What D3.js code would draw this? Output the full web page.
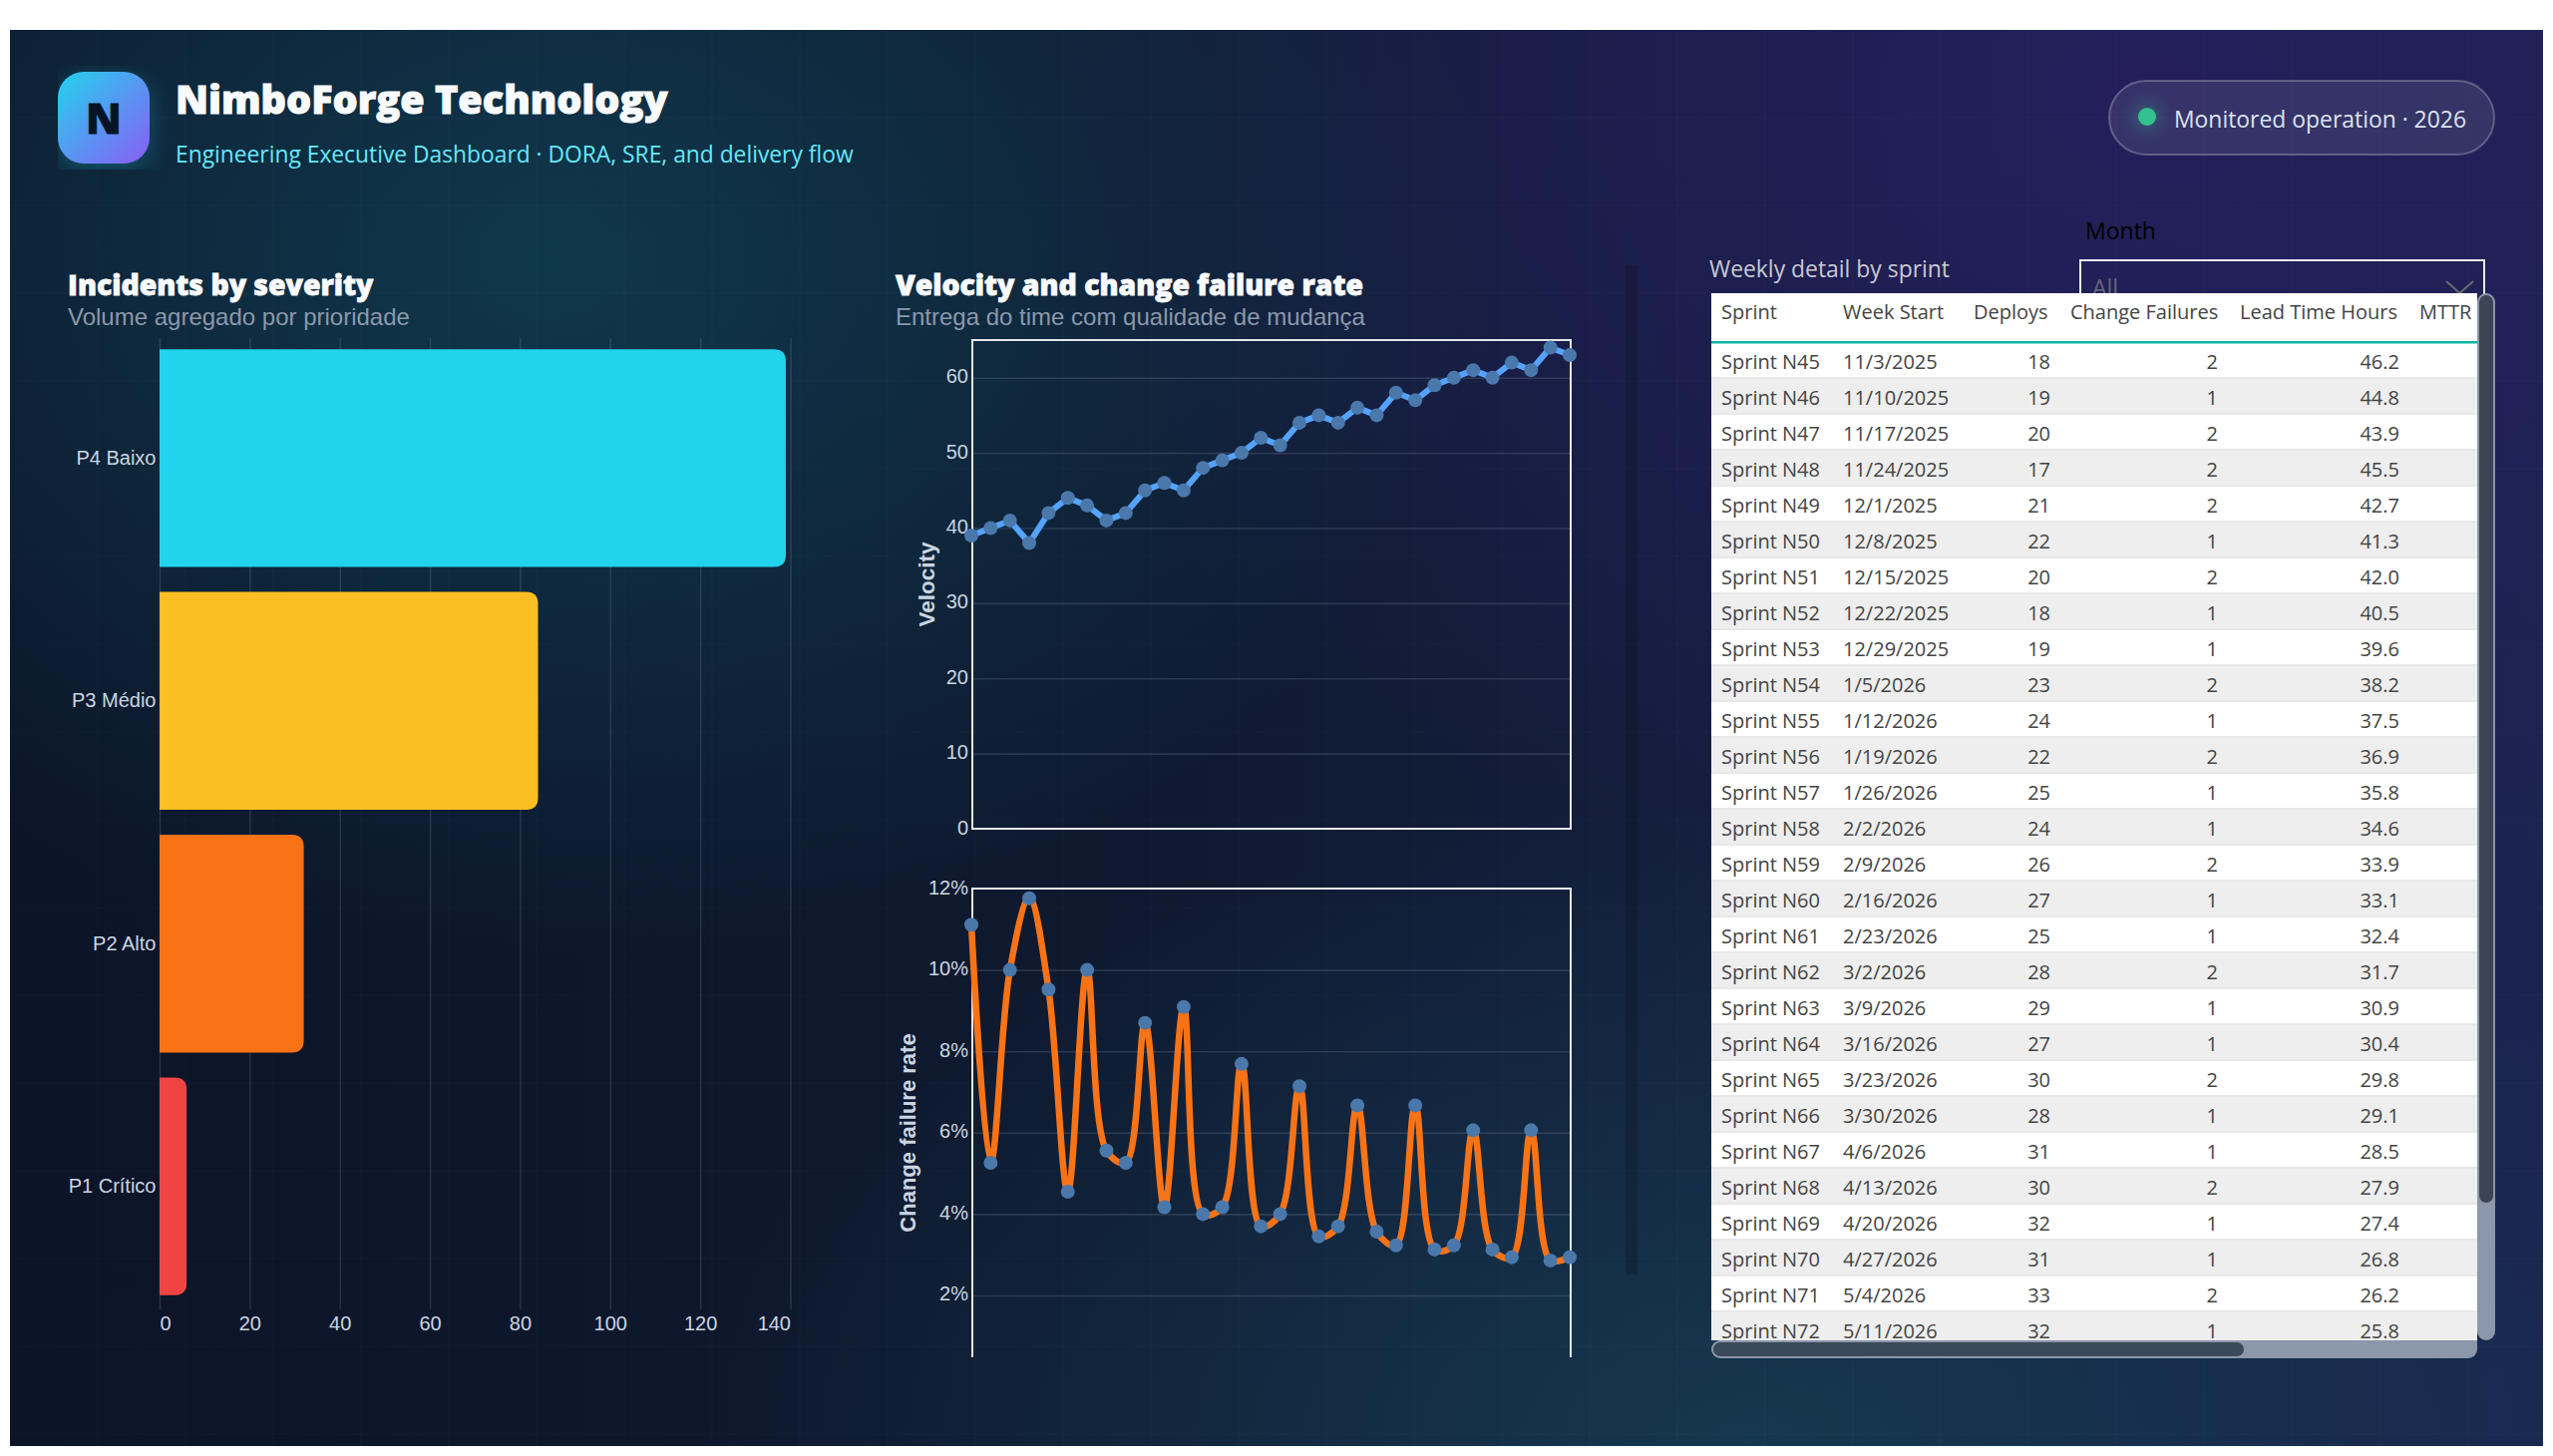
<!DOCTYPE html>
<html>
<head>
<meta charset="utf-8">
<title>NimboForge Technology</title>
<script src="https://cdnjs.cloudflare.com/ajax/libs/d3/7.8.5/d3.min.js"></script>
<style>
  html, body { margin: 0; background: #fff; }
  #stage { position: relative; width: 2560px; height: 1460px; overflow: hidden; }
  #canvas {
    position: absolute; left: 10px; top: 30px; width: 2540px; height: 1420px;
    background:
      radial-gradient(ellipse 950px 700px at 540px 230px, rgba(16,62,82,.85), rgba(16,62,82,0)),
      radial-gradient(ellipse 1150px 850px at 2150px 70px, rgba(36,31,92,1), rgba(36,31,92,0)),
      radial-gradient(ellipse 1050px 640px at 1750px 1420px, rgba(22,60,82,.85), rgba(22,60,82,0)),
      linear-gradient(90deg, #0c1428 0%, #0f1a30 45%, #1b2450 100%);
  }
  svg { position: absolute; left: 0; top: 0; }
</style>
</head>
<body>
<div id="stage"><div id="canvas"></div><svg id="chart" width="2560" height="1460"></svg></div>
<script>
// Incident volume per severity
const severityLabels = ["P4 Baixo", "P3 Médio", "P2 Alto", "P1 Crítico"];
const severityCounts = [139, 84, 32, 6];
const severityColors = ["#22d3ee", "#fbbf24", "#f97316", "#ef4444"];
const severityTicks = [0, 20, 40, 60, 80, 100, 120, 140];

// Team velocity per sprint, N45 to N76
const velocity = [39, 40, 41, 38, 42, 44, 43, 41, 42, 45, 46, 45, 48, 49, 50, 52,
                  51, 54, 55, 54, 56, 55, 58, 57, 59, 60, 61, 60, 62, 61, 64, 63];
const velocityTicks = [0, 10, 20, 30, 40, 50, 60];

// Change failure rate per sprint, percent
const failureRate = [11.11, 5.26, 10.0, 11.76, 9.52, 4.55, 10.0, 5.56, 5.26, 8.7, 4.17, 9.09,
                     4.0, 4.17, 7.69, 3.7, 4.0, 7.14, 3.45, 3.7, 6.67, 3.57, 3.23, 6.67,
                     3.13, 3.23, 6.06, 3.13, 2.94, 6.06, 2.86, 2.94];
const failureTicks = [2, 4, 6, 8, 10, 12];

// Weekly detail table
const tableSprints = ["Sprint N45","Sprint N46","Sprint N47","Sprint N48","Sprint N49","Sprint N50","Sprint N51",
  "Sprint N52","Sprint N53","Sprint N54","Sprint N55","Sprint N56","Sprint N57","Sprint N58","Sprint N59","Sprint N60",
  "Sprint N61","Sprint N62","Sprint N63","Sprint N64","Sprint N65","Sprint N66","Sprint N67","Sprint N68","Sprint N69",
  "Sprint N70","Sprint N71","Sprint N72"];
const tableWeeks = ["11/3/2025","11/10/2025","11/17/2025","11/24/2025","12/1/2025","12/8/2025","12/15/2025",
  "12/22/2025","12/29/2025","1/5/2026","1/12/2026","1/19/2026","1/26/2026","2/2/2026","2/9/2026","2/16/2026",
  "2/23/2026","3/2/2026","3/9/2026","3/16/2026","3/23/2026","3/30/2026","4/6/2026","4/13/2026","4/20/2026",
  "4/27/2026","5/4/2026","5/11/2026"];
const tableDeploys = [18,19,20,17,21,22,20,18,19,23,24,22,25,24,26,27,25,28,29,27,30,28,31,30,32,31,33,32];
const tableFailures = [2,1,2,2,2,1,2,1,1,2,1,2,1,1,2,1,1,2,1,1,2,1,1,2,1,1,2,1];
const tableLeadTime = ["46.2","44.8","43.9","45.5","42.7","41.3","42.0","40.5","39.6","38.2","37.5","36.9","35.8",
  "34.6","33.9","33.1","32.4","31.7","30.9","30.4","29.8","29.1","28.5","27.9","27.4","26.8","26.2","25.8"];
const tableHeaders = ["Sprint", "Week Start", "Deploys", "Change Failures", "Lead Time Hours", "MTTR"];

const SEGOE = "'Open Sans', 'Noto Sans', sans-serif";
const ARIAL = "'Liberation Sans', Arial, sans-serif";
const TICK = "#cbd5e1";
const GRID = "rgba(148,163,184,0.2)";

const svg = d3.select("#chart");
const defs = svg.append("defs");

// Faint square lattice over the page background
const lattice = svg.append("g").attr("stroke", "rgba(255,255,255,0.012)").attr("stroke-width", 2);
lattice.selectAll("line.v").data(d3.range(98, 2550, 88)).join("line")
  .attr("x1", d => d).attr("x2", d => d).attr("y1", 30).attr("y2", 1450);
lattice.selectAll("line.h").data(d3.range(118, 1450, 88)).join("line")
  .attr("x1", 10).attr("x2", 2550).attr("y1", d => d).attr("y2", d => d);

// Heavy display text: the widest installed weight thickened with a thin outline
function heavy(sel, fill, outline) {
  return sel.attr("font-family", SEGOE).attr("font-weight", 800)
    .attr("fill", fill).attr("stroke", fill).attr("stroke-width", outline).attr("paint-order", "stroke");
}

// ---------- Header ----------
const logoGrad = defs.append("linearGradient").attr("id", "logoGrad")
  .attr("x1", 0).attr("y1", 0).attr("x2", 1).attr("y2", 1);
logoGrad.append("stop").attr("offset", "0%").attr("stop-color", "#22d3ee");
logoGrad.append("stop").attr("offset", "100%").attr("stop-color", "#8b5cf6");
defs.append("filter").attr("id", "soft").attr("x", "-60%").attr("y", "-60%").attr("width", "220%").attr("height", "220%")
  .append("feGaussianBlur").attr("stdDeviation", 12);
defs.append("filter").attr("id", "dotGlow").attr("x", "-150%").attr("y", "-150%").attr("width", "400%").attr("height", "400%")
  .append("feGaussianBlur").attr("stdDeviation", 9);
defs.append("clipPath").attr("id", "logoClip").append("rect")
  .attr("x", 58).attr("y", 66).attr("width", 120).attr("height", 104);
svg.append("g").attr("clip-path", "url(#logoClip)").append("rect")
  .attr("x", 58).attr("y", 78).attr("width", 92).attr("height", 92).attr("rx", 24)
  .attr("fill", "#22d3ee").attr("opacity", 0.28).attr("filter", "url(#soft)");
svg.append("rect").attr("x", 58).attr("y", 72).attr("width", 92).attr("height", 92).attr("rx", 26)
  .attr("fill", "url(#logoGrad)");
heavy(svg.append("text"), "#071426", 0.8).attr("x", 104).attr("y", 134).attr("text-anchor", "middle")
  .attr("font-size", 43).text("N");
heavy(svg.append("text"), "#f8fafc", 1).attr("x", 176).attr("y", 114)
  .attr("font-size", 39.6).text("NimboForge Technology");
svg.append("text").attr("x", 176).attr("y", 163)
  .attr("font-family", SEGOE).attr("font-size", 22.8).attr("fill", "#67e8f9")
  .text("Engineering Executive Dashboard · DORA, SRE, and delivery flow");

svg.append("rect").attr("x", 2115).attr("y", 81).attr("width", 386).attr("height", 74).attr("rx", 37)
  .attr("fill", "rgba(255,255,255,0.09)").attr("stroke", "rgba(255,255,255,0.25)").attr("stroke-width", 2);
svg.append("circle").attr("cx", 2153).attr("cy", 117).attr("r", 12)
  .attr("fill", "#34d399").attr("opacity", 0.35).attr("filter", "url(#dotGlow)");
svg.append("circle").attr("cx", 2153).attr("cy", 117).attr("r", 9).attr("fill", "#34c08f");
svg.append("text").attr("x", 2180).attr("y", 128)
  .attr("font-family", SEGOE).attr("font-size", 22.9).attr("fill", "#dbe3ee")
  .text("Monitored operation · 2026");

// ---------- Section titles ----------
function sectionTitle(x, title, subtitle) {
  heavy(svg.append("text"), "#f8fafc", 0.8).attr("x", x).attr("y", 296)
    .attr("font-size", 28.4).text(title);
  svg.append("text").attr("x", x).attr("y", 326)
    .attr("font-family", ARIAL).attr("font-size", 24).attr("fill", "#8b98ab").text(subtitle);
}
sectionTitle(68, "Incidents by severity", "Volume agregado por prioridade");
sectionTitle(898, "Velocity and change failure rate", "Entrega do time com qualidade de mudança");

function styleTicks(g) {
  g.selectAll("text").attr("font-family", ARIAL).attr("font-size", 20).attr("fill", TICK);
}

// ---------- Incidents by severity ----------
const sevX = d3.scaleLinear().domain([0, 140]).range([160, 792.5]);
const sevY = d3.scaleBand().domain(severityLabels).range([337.5, 1311.5]).paddingInner(0.103).paddingOuter(0.052);

const sevGrid = svg.append("g").attr("transform", "translate(0,1313)")
  .call(d3.axisBottom(sevX).tickValues(severityTicks).tickSize(-974).tickPadding(7));
sevGrid.select(".domain").remove();
sevGrid.selectAll("line").attr("stroke", GRID).attr("stroke-width", 1.5);
styleTicks(sevGrid);
sevGrid.selectAll("text")
  .attr("text-anchor", d => d === 0 ? "start" : d === 140 ? "end" : "middle");

// Bars sit on the axis with only the far end rounded
function barPath(d, i) {
  const x0 = sevX(0), x1 = sevX(severityCounts[i]), y0 = sevY(d), h = sevY.bandwidth(), r = 12;
  return `M${x0},${y0}H${x1 - r}Q${x1},${y0} ${x1},${y0 + r}V${y0 + h - r}Q${x1},${y0 + h} ${x1 - r},${y0 + h}H${x0}Z`;
}
svg.append("g").selectAll("path").data(severityLabels).join("path")
  .attr("d", barPath).attr("fill", (d, i) => severityColors[i]);

const sevAxis = svg.append("g").attr("transform", "translate(160.5,0)")
  .call(d3.axisLeft(sevY).tickSize(0).tickPadding(4));
sevAxis.select(".domain").remove();
styleTicks(sevAxis);

// ---------- Shared frame for the two trend charts ----------
const trendX = d3.scaleLinear().domain([0, 31]).range([974, 1574]);
const frameLeft = 975, frameRight = 1575;

function trendAxis(y, ticks, format, title, titleX, titleY, titleSize) {
  const axis = svg.append("g").attr("transform", `translate(${frameLeft},0)`)
    .call(d3.axisLeft(y).tickValues(ticks).tickSize(-(frameRight - frameLeft)).tickPadding(4).tickFormat(format));
  axis.select(".domain").remove();
  axis.selectAll("line").attr("stroke", GRID).attr("stroke-width", 1.6);
  styleTicks(axis);
  axis.selectAll("text").attr("dy", "0.25em");
  svg.append("text")
    .attr("transform", `translate(${titleX},${titleY}) rotate(-90)`)
    .attr("text-anchor", "middle").attr("dominant-baseline", "central")
    .attr("font-family", ARIAL).attr("font-weight", 700).attr("font-size", titleSize).attr("fill", TICK)
    .text(title);
}

function markers(values, y) {
  svg.append("g").selectAll("circle").data(values).join("circle")
    .attr("cx", (d, i) => trendX(i)).attr("cy", d => y(d)).attr("r", 7).attr("fill", "#4a78ab");
}

// Velocity: straight segments, closed frame
const velY = d3.scaleLinear().domain([0, 65]).range([831, 341]);
trendAxis(velY, velocityTicks, d => d, "Velocity", 929, 586, 22.5);
svg.append("rect").attr("x", frameLeft).attr("y", velY(65))
  .attr("width", frameRight - frameLeft).attr("height", velY(0) - velY(65))
  .attr("fill", "none").attr("stroke", "#e5e7eb").attr("stroke-width", 2);
svg.append("path").datum(velocity)
  .attr("d", d3.line().x((d, i) => trendX(i)).y(d => velY(d)))
  .attr("fill", "none").attr("stroke", "#55a3ff").attr("stroke-width", 6).attr("stroke-linejoin", "round");
markers(velocity, velY);

// Change failure rate: smoothed line, frame open at the bottom
const cfrY = d3.scaleLinear().domain([0.48, 12]).range([1361, 891]);
trendAxis(cfrY, failureTicks, d => d + "%", "Change failure rate", 910, 1136, 22);
svg.append("path")
  .attr("d", d3.line()([[frameLeft, cfrY(0.48)], [frameLeft, cfrY(12)], [frameRight, cfrY(12)], [frameRight, cfrY(0.48)]]))
  .attr("fill", "none").attr("stroke", "#e5e7eb").attr("stroke-width", 2);
svg.append("path").datum(failureRate)
  .attr("d", d3.line().x((d, i) => trendX(i)).y(d => cfrY(d)).curve(d3.curveCatmullRom.alpha(0.5)))
  .attr("fill", "none").attr("stroke", "#f97316").attr("stroke-width", 6.5).attr("stroke-linejoin", "round");
markers(failureRate, cfrY);

// Empty scroll gutter beside the trend charts
svg.append("rect").attr("x", 1630).attr("y", 266).attr("width", 12).attr("height", 1012)
  .attr("fill", "rgba(12,18,28,0.28)");

// ---------- Month slicer, partly covered by the table ----------
svg.append("text").attr("x", 2091).attr("y", 240)
  .attr("font-family", SEGOE).attr("font-size", 23).attr("fill", "#000").text("Month");
svg.append("rect").attr("x", 2086).attr("y", 261).attr("width", 405).attr("height", 52)
  .attr("fill", "none").attr("stroke", "#e8e8f0").attr("stroke-width", 2);
svg.append("text").attr("x", 2098).attr("y", 297)
  .attr("font-family", SEGOE).attr("font-size", 23).attr("fill", "#66667a").text("All");
svg.append("path").attr("d", d3.line()([[2453, 282], [2466.5, 294], [2480, 282]]))
  .attr("fill", "none").attr("stroke", "#6b6b72").attr("stroke-width", 2);

// ---------- Weekly detail table ----------
svg.append("text").attr("x", 1714).attr("y", 278)
  .attr("font-family", SEGOE).attr("font-size", 22.9).attr("fill", "#c9c9d2").text("Weekly detail by sprint");

const tableLeft = 1716, tableRight = 2484, tableTop = 294, tableBottom = 1344;
defs.append("clipPath").attr("id", "tableClip").append("rect")
  .attr("x", tableLeft).attr("y", tableTop).attr("width", tableRight - tableLeft).attr("height", tableBottom - tableTop);
const table = svg.append("g").attr("clip-path", "url(#tableClip)");
table.append("rect").attr("x", tableLeft).attr("y", tableTop)
  .attr("width", tableRight - tableLeft).attr("height", tableBottom - tableTop).attr("fill", "#fff");

const rowY = d3.scaleBand().domain(d3.range(tableSprints.length)).range([344, 344 + 36 * tableSprints.length]);
const rows = table.selectAll("g.row").data(tableSprints).join("g").attr("class", "row")
  .attr("transform", (d, i) => `translate(0,${rowY(i)})`);
rows.append("rect").attr("x", tableLeft).attr("width", tableRight - tableLeft).attr("height", rowY.bandwidth())
  .attr("fill", (d, i) => i % 2 ? "#eeeeee" : "#ffffff");
rows.append("rect").attr("x", tableLeft).attr("y", rowY.bandwidth() - 2).attr("width", tableRight - tableLeft).attr("height", 2)
  .attr("fill", "#e8e8e8");

const columns = [
  { x: 1726, anchor: "start", values: tableSprints },
  { x: 1848, anchor: "start", values: tableWeeks },
  { x: 2056, anchor: "end", values: tableDeploys },
  { x: 2224, anchor: "end", values: tableFailures },
  { x: 2406, anchor: "end", values: tableLeadTime }
];
columns.forEach(col => {
  rows.append("text")
    .attr("x", col.x).attr("y", 26).attr("text-anchor", col.anchor)
    .attr("font-family", SEGOE).attr("font-size", 20).attr("fill", "#444")
    .text((d, i) => col.values[i]);
});
const headerX = [1726, 1848, 1979, 2076, 2246, 2426];
table.selectAll("text.head").data(tableHeaders).join("text").attr("class", "head")
  .attr("x", (d, i) => headerX[i]).attr("y", 320)
  .attr("font-family", SEGOE).attr("font-size", 20).attr("fill", "#444").text(d => d);
table.append("rect").attr("x", tableLeft).attr("y", 342).attr("width", tableRight - tableLeft).attr("height", 2.5)
  .attr("fill", "#0fb5a4");

// Scrollbars
svg.append("rect").attr("x", 2484).attr("y", 294).attr("width", 18).attr("height", 1050).attr("rx", 9).attr("fill", "#8b97aa");
svg.append("rect").attr("x", 2486).attr("y", 296).attr("width", 14).attr("height", 910).attr("rx", 7).attr("fill", "#3f4356");
svg.append("path")
  .attr("d", "M1725,1344H2484V1353A9,9 0 0 1 2475,1362H1725A9,9 0 0 1 1716,1353A9,9 0 0 1 1725,1344Z")
  .attr("fill", "#8b97aa");
svg.append("rect").attr("x", 1718).attr("y", 1346).attr("width", 532).attr("height", 14).attr("rx", 7).attr("fill", "#3b4a5a");
</script>
</body>
</html>
